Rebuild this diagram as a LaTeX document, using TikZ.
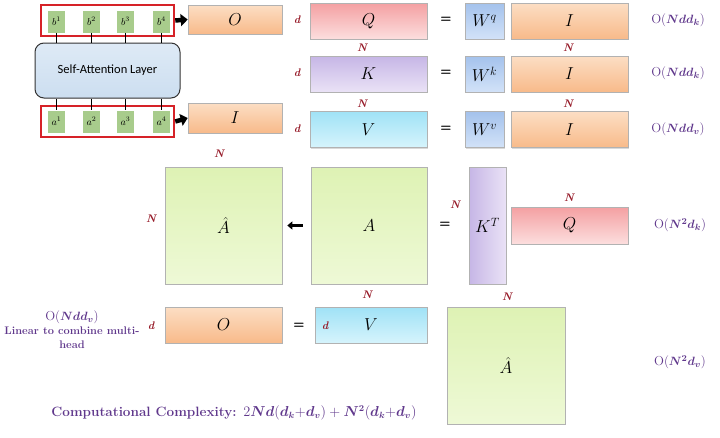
\documentclass[tikz,border=0pt]{standalone}
\usepackage{amsmath,amssymb}
\usepackage{fontspec}
\usepackage{tikz}
\usetikzlibrary{arrows.meta,calc,positioning,shadows}
\newfontfamily\calibrifont{Carlito}
\definecolor{framered}{RGB}{214,34,40}
\definecolor{sqgreen}{RGB}{168,204,140}
\definecolor{labred}{RGB}{150,26,40}
\definecolor{cxpurple}{RGB}{96,56,140}
\definecolor{orgtop}{RGB}{252,222,196}
\definecolor{orgbot}{RGB}{248,186,138}
\definecolor{pnktop}{RGB}{244,160,162}
\definecolor{pnkbot}{RGB}{252,222,222}
\definecolor{pprtop}{RGB}{198,182,230}
\definecolor{pprbot}{RGB}{234,226,246}
\definecolor{cyntop}{RGB}{160,226,246}
\definecolor{cynbot}{RGB}{214,244,252}
\definecolor{blutop}{RGB}{164,194,236}
\definecolor{blubot}{RGB}{210,226,248}
\definecolor{grntop}{RGB}{222,242,180}
\definecolor{grnbot}{RGB}{238,249,214}
\definecolor{satop}{RGB}{222,234,246}
\definecolor{sabot}{RGB}{204,222,240}

\begin{document}
\begin{tikzpicture}[x=1pt, y=-1pt, line width=0.6pt,
  box/.style={draw=gray!60, inner sep=0pt, font=\fontsize{17}{17}\selectfont,
    drop shadow={shadow xshift=1.2pt, shadow yshift=-1.2pt, opacity=0.3}},
  obox/.style={box, top color=orgtop, bottom color=orgbot},
  qbox/.style={box, top color=pnktop, bottom color=pnkbot},
  kbox/.style={box, top color=pprtop, bottom color=pprbot},
  vbox/.style={box, top color=cyntop, bottom color=cynbot},
  wbox/.style={box, top color=blutop, bottom color=blubot},
  abox/.style={box, top color=grntop, bottom color=grnbot, minimum width=117pt, minimum height=117pt},
  wide/.style={minimum width=117pt, minimum height=36pt},
  frame/.style={draw=framered, line width=2.5pt, minimum width=133pt, minimum height=31pt},
  sq/.style={fill=sqgreen, minimum width=17pt, minimum height=22pt, inner sep=0pt, font=\fontsize{10}{10}\selectfont},
  lab/.style={text=labred, font=\fontsize{11}{11}\selectfont\bfseries\itshape},
  cx/.style={text=cxpurple, font=\fontsize{13}{13}\selectfont},
  eq/.style={font=\fontsize{13}{13}\sffamily\bfseries},
  blk/.style={-{Triangle[width=12pt,length=7pt]}, line width=4.5pt}]
\useasboundingbox (0,0) rectangle (720,437);

% self-attention block
\node[frame] (frameB) at (107.5,20.5) {};
\node[frame] (frameA) at (107.5,121.5) {};
\node[draw=black!80, line width=1pt, rounded corners=9pt, top color=satop, bottom color=sabot,
  minimum width=145pt, minimum height=55pt, font=\calibrifont\fontsize{12.5}{12.5}\selectfont] (sal) at (107.5,70.5) {Self-Attention Layer};
\foreach \x [count=\i] in {56.5,91.5,125.5,161.5}{
  \node[sq] (b\i) at (\x,21.5) {$b^{\i}$};
  \node[sq] (a\i) at (\x,121.5) {$a^{\i}$};
  \draw (b\i.south) -- (sal.north -| b\i.south);
  \draw (sal.south -| a\i.north) -- (a\i.north);
}

% outputs of the layer
\node[obox, minimum width=94pt, minimum height=29pt] (O1) at (235,19.5) {$O$};
\node[obox, minimum width=94pt, minimum height=30pt] (I1) at (235,118) {$I$};
\draw[blk] (frameB.east) -- (O1.west);
\draw[blk] (frameA.east) -- (I1.west);

% Q, K, V
\node[qbox, wide] (Q1) at (368.5,21) {$Q$};
\node[kbox, wide] (K1) at (368.5,74) {$K$};
\node[vbox, wide] (V1) at (368.5,129.5) {$V$};
\node[wbox, minimum width=39pt, minimum height=36pt] (Wq) at (484.5,21) {$W^q$};
\node[wbox, minimum width=39pt, minimum height=36pt] (Wk) at (484.5,74) {$W^k$};
\node[wbox, minimum width=39pt, minimum height=36pt] (Wv) at (484.5,129.5) {$W^v$};
\node[obox, wide] (Iq) at (569.5,21) {$I$};
\node[obox, wide] (Ik) at (569.5,74) {$I$};
\node[obox, wide] (Iv) at (569.5,129.5) {$I$};
\foreach \y/\n in {20/q,73/k,129/v}{
  \node[eq] (eq\n) at (446,\y) {=};
  \node[lab] (d\n) at (297,\y) {d};
}
\foreach \y in {48,104}{
  \node[lab] at (362,\y) {N};
  \node[lab] at (568,\y) {N};
}
\node[cx] (cq) at (678,20) {O($\boldsymbol{Ndd_k}$)};
\node[cx] (ck) at (678,73) {O($\boldsymbol{Ndd_k}$)};
\node[cx] (cv) at (678,129) {O($\boldsymbol{Ndd_v}$)};

% attention matrix
\node[abox] (Ahat1) at (223.5,225.5) {$\hat{A}$};
\node[abox, minimum width=116pt] (A1) at (369,225.5) {$A$};
\node[kbox, left color=pprtop, right color=pprbot, minimum width=37pt, minimum height=117pt] (KT) at (487.5,225.5) {$K^T$};
\node[qbox, minimum width=117pt, minimum height=37pt] (Q2) at (569.5,225.5) {$Q$};
\draw[-{Triangle[width=8pt,length=5pt]}, line width=2.2pt, shorten <=8pt, shorten >=5pt] (A1.west) -- (Ahat1.east);
\node[eq] (eqA) at (445,225) {=};
\node[lab] at (219,154) {N};
\node[lab] at (151,219) {N};
\node[lab] at (367,295) {N};
\node[lab] at (455,205) {N};
\node[lab] at (569,198) {N};
\node[cx] (cqk) at (680,225) {O($\boldsymbol{N^2d_k}$)};

% weighted sum
\node[obox, wide] (O2) at (223.5,325) {$O$};
\node[vbox, minimum width=112pt, minimum height=36pt] (V2) at (371,325) {$V$};
\node[abox, minimum width=118pt] (Ahat2) at (506,365.5) {$\hat{A}$};
\node[eq] (eqO) at (299,326) {=};
\node[lab] at (151,326) {d};
\node[lab] at (325,326) {d};
\node[lab] at (507,297) {N};
\node[cx] (cav) at (680,362) {O($\boldsymbol{N^2d_v}$)};
\node[text=cxpurple, align=center, font=\fontsize{11}{14}\selectfont\bfseries] (lin) at (72,330)
  {{\mdseries\fontsize{13}{15}\selectfont O($\boldsymbol{Ndd_v}$)}\\Linear to combine multi-\\head};

\node[text=cxpurple, font=\fontsize{13.5}{13.5}\selectfont\bfseries] (total) at (234,413)
  {Computational Complexity: $2\boldsymbol{Nd}(\boldsymbol{d_k}{+}\boldsymbol{d_v}) + \boldsymbol{N^2}(\boldsymbol{d_k}{+}\boldsymbol{d_v})$};
\end{tikzpicture}
\end{document}
